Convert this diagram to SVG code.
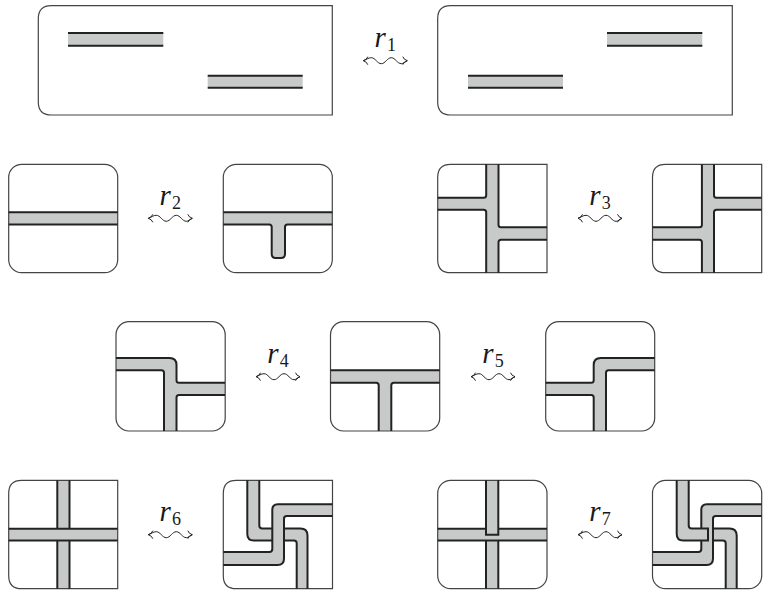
<svg xmlns="http://www.w3.org/2000/svg" width="763" height="592" viewBox="0 0 763 592">
<style>
.f{fill:#c8caca;stroke:none}
.e{fill:none;stroke:#222;stroke-width:2}
.b{fill:none;stroke:#444;stroke-width:1.2}
.w{fill:none;stroke:#222;stroke-width:1}
text{font-family:"Liberation Serif","Times New Roman",serif;fill:#1a1a1a}
.r{font-size:29px;font-style:italic;font-family:"Liberation Serif","Times New Roman",serif}
.s{font-size:18px;font-family:"Liberation Serif","Times New Roman",serif}
</style>
<defs>
<g id="wig"><path class="w" d="M0 0C3 -1 5 -3 8 -3C12 -3 14 3 18 3C22 3 24 -3 28 -3C32 -3 34 3 38 3C40 3 42 1 44 0M4.500 -4Q3.500 -1 0 0Q3.500 1 4.500 4M39.500 -4Q40.500 -1 44 0Q40.500 1 39.500 4"/></g>
</defs>
<g id="connectors">
<use href="#wig" x="363.300" y="60.700"/>
<use href="#wig" x="148.300" y="218.300"/>
<use href="#wig" x="578" y="218.300"/>
<use href="#wig" x="256" y="376.700"/>
<use href="#wig" x="471" y="376.700"/>
<use href="#wig" x="148.300" y="534.700"/>
<use href="#wig" x="578" y="534.700"/>
</g>
<g id="labels">
<text x="374.500" y="47"><tspan class="r">r</tspan><tspan class="s" x="387" y="51">1</tspan></text>
<text x="159.500" y="205"><tspan class="r">r</tspan><tspan class="s" x="172" y="209">2</tspan></text>
<text x="589.200" y="205"><tspan class="r">r</tspan><tspan class="s" x="601.700" y="209">3</tspan></text>
<text x="267.200" y="363"><tspan class="r">r</tspan><tspan class="s" x="279.700" y="367">4</tspan></text>
<text x="482.200" y="363"><tspan class="r">r</tspan><tspan class="s" x="494.700" y="367">5</tspan></text>
<text x="159.500" y="521"><tspan class="r">r</tspan><tspan class="s" x="172" y="525">6</tspan></text>
<text x="589.200" y="521"><tspan class="r">r</tspan><tspan class="s" x="601.700" y="525">7</tspan></text>
</g>
<g id="n1a">
<rect class="f" x="68" y="33" width="95.300" height="12.700"/><rect class="f" x="207.700" y="75.700" width="95" height="12"/>
<path class="b" d="M332.300 5.700H51.300Q38.300 5.700 38.300 18.700V102Q38.300 115 51.300 115H332.300Z"/>
<path class="e" d="M68 33H163.300M68 45.700H163.300M207.700 75.700H302.700M207.700 87.700H302.700"/>
</g>
<g id="n1b">
<rect class="f" x="607" y="33" width="95.300" height="12.700"/><rect class="f" x="468" y="75.700" width="95" height="12"/>
<path class="b" d="M732.300 5.700H450.700Q437.700 5.700 437.700 18.700V102Q437.700 115 450.700 115H732.300Z"/>
<path class="e" d="M607 33H702.300M607 45.700H702.300M468 75.700H563M468 87.700H563"/>
</g>
<g id="n2a">
<rect class="f" x="8.700" y="212.300" width="109" height="12.200"/>
<rect class="b" x="8.700" y="164.300" width="109" height="108.400" rx="13"/>
<path class="e" d="M8.700 212.300H117.700M8.700 224.500H117.700"/>
</g>
<g id="n2b">
<path class="f" d="M223.300 212.300H332.300V224.500H285V254Q285 258 281 258H275.700Q271.700 258 271.700 254V224.500H223.300Z"/>
<rect class="b" x="223.300" y="164.300" width="109" height="108.400" rx="13"/>
<path class="e" d="M223.300 212.300H332.300M223.300 224.500H269.200Q271.700 224.500 271.700 227V254Q271.700 258 275.700 258H281Q285 258 285 254V227Q285 224.500 287.500 224.500H332.300"/>
</g>
<g id="n3a">
<path class="f" d="M486.200 164.300H498.500V227.300H547V239.700H498.500V272.700H486.200V209.700H437.700V197.700H486.200Z"/>
<path class="b" d="M547 164.300H450.700Q437.700 164.300 437.700 177.300V259.700Q437.700 272.700 450.700 272.700H547Z"/>
<path class="e" d="M437.700 197.700H483.700Q486.200 197.700 486.200 195.200V164.300M437.700 209.700H483.700Q486.200 209.700 486.200 212.200V272.700M498.500 164.300V224.800Q498.500 227.300 501 227.300H547M498.500 272.700V242.200Q498.500 239.700 501 239.700H547"/>
</g>
<g id="n3b">
<path class="f" d="M701.900 164.300H714V197.700H761.700V209.700H714V272.700H701.900V239.700H652.500V227.300H701.900Z"/>
<path class="b" d="M761.700 164.300H665.500Q652.500 164.300 652.500 177.300V259.700Q652.500 272.700 665.500 272.700H761.700Z"/>
<path class="e" d="M701.900 164.300V224.800Q701.900 227.300 699.400 227.300H652.500M701.900 272.700V242.200Q701.900 239.700 699.400 239.700H652.500M714 164.300V195.200Q714 197.700 716.500 197.700H761.700M714 272.700V212.200Q714 209.700 716.500 209.700H761.700"/>
</g>
<g id="n4a">
<path class="f" d="M116 358H169.500Q176.500 358 176.500 365V382.700H225V395H176.500V431H164V370.300H116Z"/>
<rect class="b" x="116" y="321.700" width="109.200" height="109.300" rx="13"/>
<path class="e" d="M116 358H169.500Q176.500 358 176.500 365V380.200Q176.500 382.700 179 382.700H225M116 370.300H161.500Q164 370.300 164 372.800V431M176.500 431V397.500Q176.500 395 179 395H225"/>
</g>
<g id="n4b">
<path class="f" d="M330.500 370.300H439.700V382.700H391.300V431H378.700V382.700H330.500Z"/>
<rect class="b" x="330.500" y="321.700" width="109.200" height="109.300" rx="13"/>
<path class="e" d="M330.500 370.300H439.700M330.500 382.700H376.200Q378.700 382.700 378.700 385.200V431M391.300 431V385.200Q391.300 382.700 393.800 382.700H439.700"/>
</g>
<g id="n5">
<path class="f" d="M654.700 358H600.700Q593.700 358 593.700 365V382.700H545.700V395H593.700V431H606V370.300H654.700Z"/>
<rect class="b" x="545.700" y="321.700" width="109" height="109.300" rx="13"/>
<path class="e" d="M654.700 358H600.700Q593.700 358 593.700 365V380.200Q593.700 382.700 591.200 382.700H545.700M654.700 370.300H608.500Q606 370.300 606 372.800V431M593.700 431V397.500Q593.700 395 591.200 395H545.700"/>
</g>
<g id="n6a">
<rect class="f" x="8.700" y="528.700" width="109" height="11.800"/><rect class="f" x="57.300" y="480.300" width="12.200" height="108.400"/>
<path class="b" d="M117.700 480.300H21.700Q8.700 480.300 8.700 493.300V575.700Q8.700 588.700 21.700 588.700H117.700Z"/>
<path class="e" d="M8.700 528.700H117.700M8.700 540.500H117.700M57.300 480.300V528.700M69.500 480.300V528.700M57.300 540.500V588.700M69.500 540.500V588.700"/>
</g>
<g id="n6b">
<path class="f" d="M247.300 480.300H259.300V528.500H300Q307.500 528.500 307.500 535.500V588.700H296.700V540.500H253.800Q247.300 540.500 247.300 534Z"/>
<path class="f" d="M332.500 504.300H277.800Q272.300 504.300 272.300 509.800V552H223.300V565H277.500Q284 565 284 558.500V516H332.500Z"/>
<path class="b" d="M332.500 480.300H236.300Q223.300 480.300 223.300 493.300V575.700Q223.300 588.700 236.300 588.700H332.500Z"/>
<path class="e" d="M259.300 480.300V525.500Q259.300 528.500 262.300 528.500H272.300M247.300 480.300V534Q247.300 540.500 253.800 540.500H272.300M332.500 504.300H277.800Q272.300 504.300 272.300 509.800V549Q272.300 552 269.300 552H223.300M332.500 516H286.700Q284 516 284 518.700V558.500Q284 565 277.500 565H223.300M284 528.500H300.500Q307.500 528.500 307.500 535.500V588.700M284 540.500H294Q296.700 540.500 296.700 543.200V588.700"/>
</g>
<g id="n7a">
<rect class="f" x="437.700" y="528.700" width="109.300" height="11.800"/><rect class="f" x="486" y="480.300" width="12.300" height="108.400"/>
<rect class="b" x="437.700" y="480.300" width="109.300" height="108.400" rx="13"/>
<path class="e" d="M437.700 528.700H486M547 528.700H498.300M486 480.300V534.700H498.300V480.300M437.700 540.500H547M486 540.500V588.700M498.300 540.500V588.700"/>
</g>
<g id="n7b">
<path class="f" d="M761.700 504.300H706.800Q701.300 504.300 701.300 509.800V552H652.500V565H706.500Q713 565 713 558.500V516H761.700Z"/>
<path class="f" d="M676.700 480.300H688.700V528.500H708V540.500H683.200Q676.700 540.500 676.700 534Z"/>
<path class="f" d="M713 528.500H729.500Q736.700 528.500 736.700 535.500V588.700H725.700V543.200Q725.700 540.500 723 540.500H713Z"/>
<rect class="b" x="652.500" y="480.300" width="109.200" height="108.400" rx="13"/>
<path class="e" d="M688.700 480.300V525.500Q688.700 528.500 691.700 528.500H708V540.500H683.200Q676.700 540.500 676.700 534V480.300M761.700 504.300H706.800Q701.300 504.300 701.300 509.800V528.500M701.300 540.500V549Q701.300 552 698.300 552H652.500M761.700 516H715.700Q713 516 713 518.700V558.500Q713 565 706.500 565H652.500M713 528.500H729.500Q736.700 528.500 736.700 535.500V588.700M713 540.500H723Q725.700 540.500 725.700 543.200V588.700"/>
</g>
</svg>
